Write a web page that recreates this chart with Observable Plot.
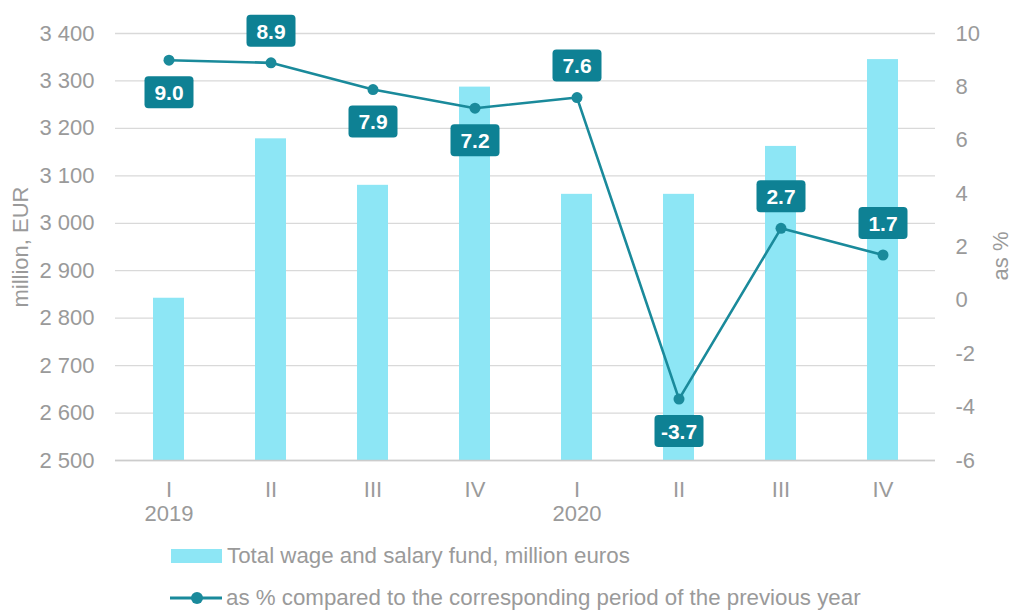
<!DOCTYPE html>
<html><head><meta charset="utf-8">
<script src="https://cdn.jsdelivr.net/npm/d3@7"></script>
<script src="https://cdn.jsdelivr.net/npm/@observablehq/plot@0.6"></script>
<style>
body{margin:0;background:#fff;font-family:"Liberation Sans",Arial,sans-serif;}
#wrap{position:relative;width:1013px;height:610px;}
.leg{position:absolute;display:flex;align-items:center;color:#9a9a9a;font-size:22.3px;white-space:nowrap;}
</style></head><body>
<div id="wrap"><div id="chart"></div></div>
<script>
// Data
const years = ["2019","2019","2019","2019","2020","2020","2020","2020"];
const quarters = ["I","II","III","IV","I","II","III","IV"];
const fund = [2842, 3178, 3080, 3287, 3061, 3061, 3162, 3345];
const pct = [9.0, 8.9, 7.9, 7.2, 7.6, -3.7, 2.7, 1.7];
const leftTicks = [2500, 2600, 2700, 2800, 2900, 3000, 3100, 3200, 3300, 3400];
const rightTicks = [-6, -4, -2, 0, 2, 4, 6, 8, 10];
const seriesNames = ["Total wage and salary fund, million euros",
  "as % compared to the corresponding period of the previous year"];
const axisTitles = ["million, EUR", "as %"];

const data = quarters.map((q, i) => ({key: years[i] + " " + q, year: years[i], q, fund: fund[i], pct: pct[i], i}));
const L0 = leftTicks[0], L1 = leftTicks[leftTicks.length - 1];
const R0 = rightTicks[0], R1 = rightTicks[rightTicks.length - 1];
const toLeft = p => L0 + (p - R0) / (R1 - R0) * (L1 - L0);
const fromLeft = v => R0 + (v - L0) / (L1 - L0) * (R1 - R0);

const barColor = "#8de6f5", lineColor = "#1a8a9b", boxColor = "#0e8194", grey = "#9a9a9a";
const below = new Set([0, 2, 3, 5]);

const roundBox = {draw(ctx) {
  const w = 24.5, h = 16, r = 4;
  ctx.moveTo(-w + r, -h); ctx.lineTo(w - r, -h); ctx.arcTo(w, -h, w, -h + r, r);
  ctx.lineTo(w, h - r); ctx.arcTo(w, h, w - r, h, r);
  ctx.lineTo(-w + r, h); ctx.arcTo(-w, h, -w, h - r, r);
  ctx.lineTo(-w, -h + r); ctx.arcTo(-w, -h, -w + r, -h, r); ctx.closePath();
}};

const fmtL = d => d3.format(",")(d).replace(",", " ");
const keyFmt = k => { const d = data.find(e => e.key === k); return d.q === "I" ? d.q + "\n" + d.year : d.q; };

const labelMarks = [];
for (const [filt, dy] of [[d => below.has(d.i), 32], [d => !below.has(d.i), -32]]) {
  const sub = data.filter(filt);
  labelMarks.push(Plot.dot(sub, {x: "key", y: d => toLeft(d.pct), dy, symbol: roundBox, r: 5, fill: boxColor, stroke: "none"}));
  labelMarks.push(Plot.text(sub, {x: "key", y: d => toLeft(d.pct), dy: dy + 1, text: d => d.pct.toFixed(1), fill: "white", fontWeight: "bold", fontSize: 21}));
}

const chart = Plot.plot({
  width: 1013, height: 530,
  marginLeft: 115, marginRight: 78, marginTop: 33, marginBottom: 70,
  style: {fontFamily: "'Liberation Sans', Arial, sans-serif", fontSize: "22px", color: grey, background: "#fff", overflow: "visible"},
  x: {type: "band", domain: data.map(d => d.key), paddingInner: 0.7, paddingOuter: 0.35, label: null},
  y: {domain: [L0, L1], label: null},
  marks: [
    Plot.gridY(leftTicks, {stroke: "#d9d9d9", strokeOpacity: 1, strokeWidth: 1.3}),
    Plot.barY(data, {x: "key", y1: L0, y2: "fund", fill: barColor}),
    Plot.ruleY([L0], {stroke: "#cccccc", strokeWidth: 1.5}),
    Plot.axisX({tickSize: 0, tickPadding: 19, tickFormat: keyFmt, label: null, lineHeight: 1.1}),
    Plot.axisY(leftTicks, {anchor: "left", tickSize: 0, tickPadding: 21, tickFormat: fmtL, label: null}),
    Plot.axisY(rightTicks.map(toLeft), {anchor: "right", tickSize: 0, tickPadding: 20, tickFormat: v => String(Math.round(fromLeft(v))), label: null}),
    Plot.line(data, {x: "key", y: d => toLeft(d.pct), stroke: lineColor, strokeWidth: 2.6}),
    Plot.dot(data, {x: "key", y: d => toLeft(d.pct), r: 5.5, fill: lineColor, stroke: "none"}),
    ...labelMarks,
    Plot.text([axisTitles[0]], {frameAnchor: "left", textAnchor: "middle", dx: -95, rotate: -90, fill: grey, fontSize: 22}),
    Plot.text([axisTitles[1]], {frameAnchor: "right", textAnchor: "middle", dx: 65, dy: 9, rotate: -90, fill: grey, fontSize: 22})
  ]
});
document.getElementById("chart").appendChild(chart);

// Legend
const wrap = document.getElementById("wrap");
const l1 = document.createElement("div");
l1.className = "leg"; l1.style.left = "171px"; l1.style.top = "542px";
l1.innerHTML = `<svg width="52" height="28"><rect x="0" y="7" width="51" height="14" fill="${barColor}"/></svg><span style="margin-left:4px">${seriesNames[0]}</span>`;
const l2 = document.createElement("div");
l2.className = "leg"; l2.style.left = "169px"; l2.style.top = "584px";
l2.innerHTML = `<svg width="54" height="28"><line x1="1" x2="53" y1="14" y2="14" stroke="${lineColor}" stroke-width="3"/><circle cx="28" cy="14" r="6" fill="${lineColor}"/></svg><span style="margin-left:3px">${seriesNames[1]}</span>`;
wrap.appendChild(l1); wrap.appendChild(l2);
</script>
</body></html>
